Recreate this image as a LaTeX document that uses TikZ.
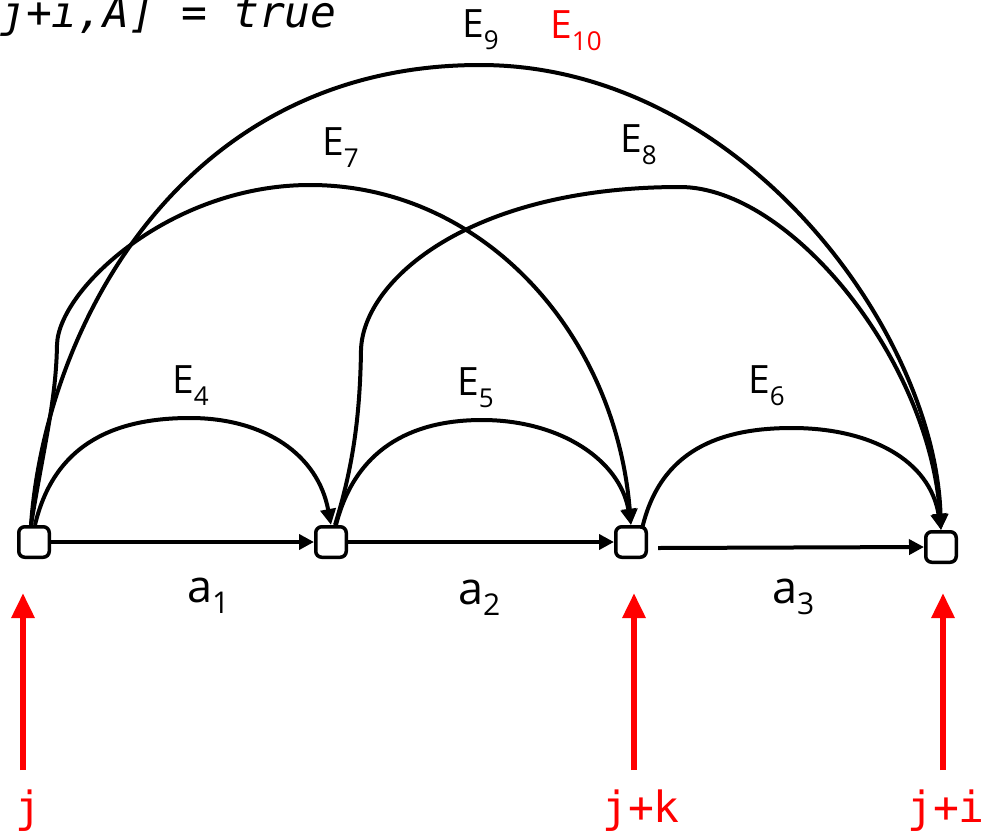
\documentclass[tikz,border=0pt]{standalone}
\usepackage{fontspec}
\setmainfont{Open Sans}
\newfontfamily\monof{DejaVu Sans Mono}
\usetikzlibrary{arrows.meta}
\newcommand\esub[1]{\raisebox{-12pt}{\fontsize{26}{26}\selectfont #1}}
\newcommand\asub[1]{\raisebox{-11pt}{\fontsize{30}{30}\selectfont #1}}
\begin{document}
\begin{tikzpicture}[x=1pt,y=-1pt,
  box/.style={draw,line width=3.5pt,rounded corners=6pt,minimum size=30.5pt,inner sep=0pt},
  edge/.style={line width=4pt,-{Triangle[length=15pt,width=15pt]}},
  curve/.style={line width=4pt,-{Triangle[length=16pt,width=15pt]}},
  redarrow/.style={red,line width=6pt,-{Triangle[length=25pt,width=22pt]}},
  elabel/.style={font=\fontsize{39}{39}\selectfont,anchor=base west,inner sep=0pt},
  alabel/.style={font=\fontsize{45}{45}\selectfont,anchor=base west,inner sep=0pt},
  rlabel/.style={red,font=\monof\fontsize{43}{43}\selectfont,anchor=base,inner sep=0pt}]
\useasboundingbox (0,0) rectangle (982,833);

% top code text
\node[font=\monof\itshape\fontsize{43}{43}\selectfont,anchor=base west,inner sep=0pt] (code) at (0,27) {j+i,A] = true};

% nodes
\node[box] (n1) at (34,542) {};
\node[box] (n2) at (331,542) {};
\node[box] (n3) at (631,542) {};
\node[box] (n4) at (941,547) {};

% straight edges
\draw[edge] (n1) -- (n2);
\draw[edge] (n2) -- (n3);
\coordinate (a3s) at (658,548);
\draw[edge] (a3s) -- (n4.west);

% curved edges
\draw[curve] ([xshift=1pt]n1.north) .. controls (55,440) and (120,418) .. (190,418)
  .. controls (265,418) and (318,455) .. (n2.north);
\draw[curve] ([xshift=5pt]n2.north) .. controls (355,450) and (410,420) .. (482,420)
  .. controls (560,420) and (620,460) .. (n3.north);
\draw[curve] ([xshift=11pt,yshift=-4pt]n3.north) .. controls (660,450) and (720,428) .. (792,428)
  .. controls (870,428) and (930,460) .. (n4.north);
\draw[curve] ([xshift=-3pt]n1.north) .. controls (45,440) and (56,400) .. (57,345)
  .. controls (58,290) and (170,185) .. (310,185)
  .. controls (480,185) and (615,330) .. (n3.north);
\draw[curve] ([xshift=-3pt]n1.north) .. controls (45,330) and (180,65) .. (480,65)
  .. controls (740,65) and (935,330) .. (n4.north);
\draw[curve] ([xshift=4pt]n2.north) .. controls (352,470) and (360,420) .. (361,350)
  .. controls (363,280) and (470,187) .. (680,187)
  .. controls (790,187) and (930,360) .. (n4.north);

% edge labels
\node[elabel] (e4) at (172,393) {E\esub{4}};
\node[elabel] (e5) at (457,395) {E\esub{5}};
\node[elabel] (e6) at (748,393) {E\esub{6}};
\node[elabel] (e7) at (322,155) {E\esub{7}};
\node[elabel] (e8) at (620,152) {E\esub{8}};
\node[elabel] (e9) at (462,37) {E\esub{9}};
\node[elabel,red] (e10) at (550,38) {E\esub{10}};

\node[alabel] (a1) at (187,602) {a\asub{1}};
\node[alabel] (a2) at (458,604) {a\asub{2}};
\node[alabel] (a3) at (772,603) {a\asub{3}};

% red pointers
\coordinate (p1) at (23,770);
\coordinate (p1t) at (23,593);
\coordinate (p2) at (634,770);
\coordinate (p2t) at (634,593);
\coordinate (p3) at (943,770);
\coordinate (p3t) at (943,593);
\draw[redarrow] (p1) -- (p1t);
\draw[redarrow] (p2) -- (p2t);
\draw[redarrow] (p3) -- (p3t);

\node[rlabel] (lj) at (28,822) {j};
\node[rlabel] (ljk) at (641,822) {j+k};
\node[rlabel] (lji) at (946,822) {j+i};
\end{tikzpicture}
\end{document}
